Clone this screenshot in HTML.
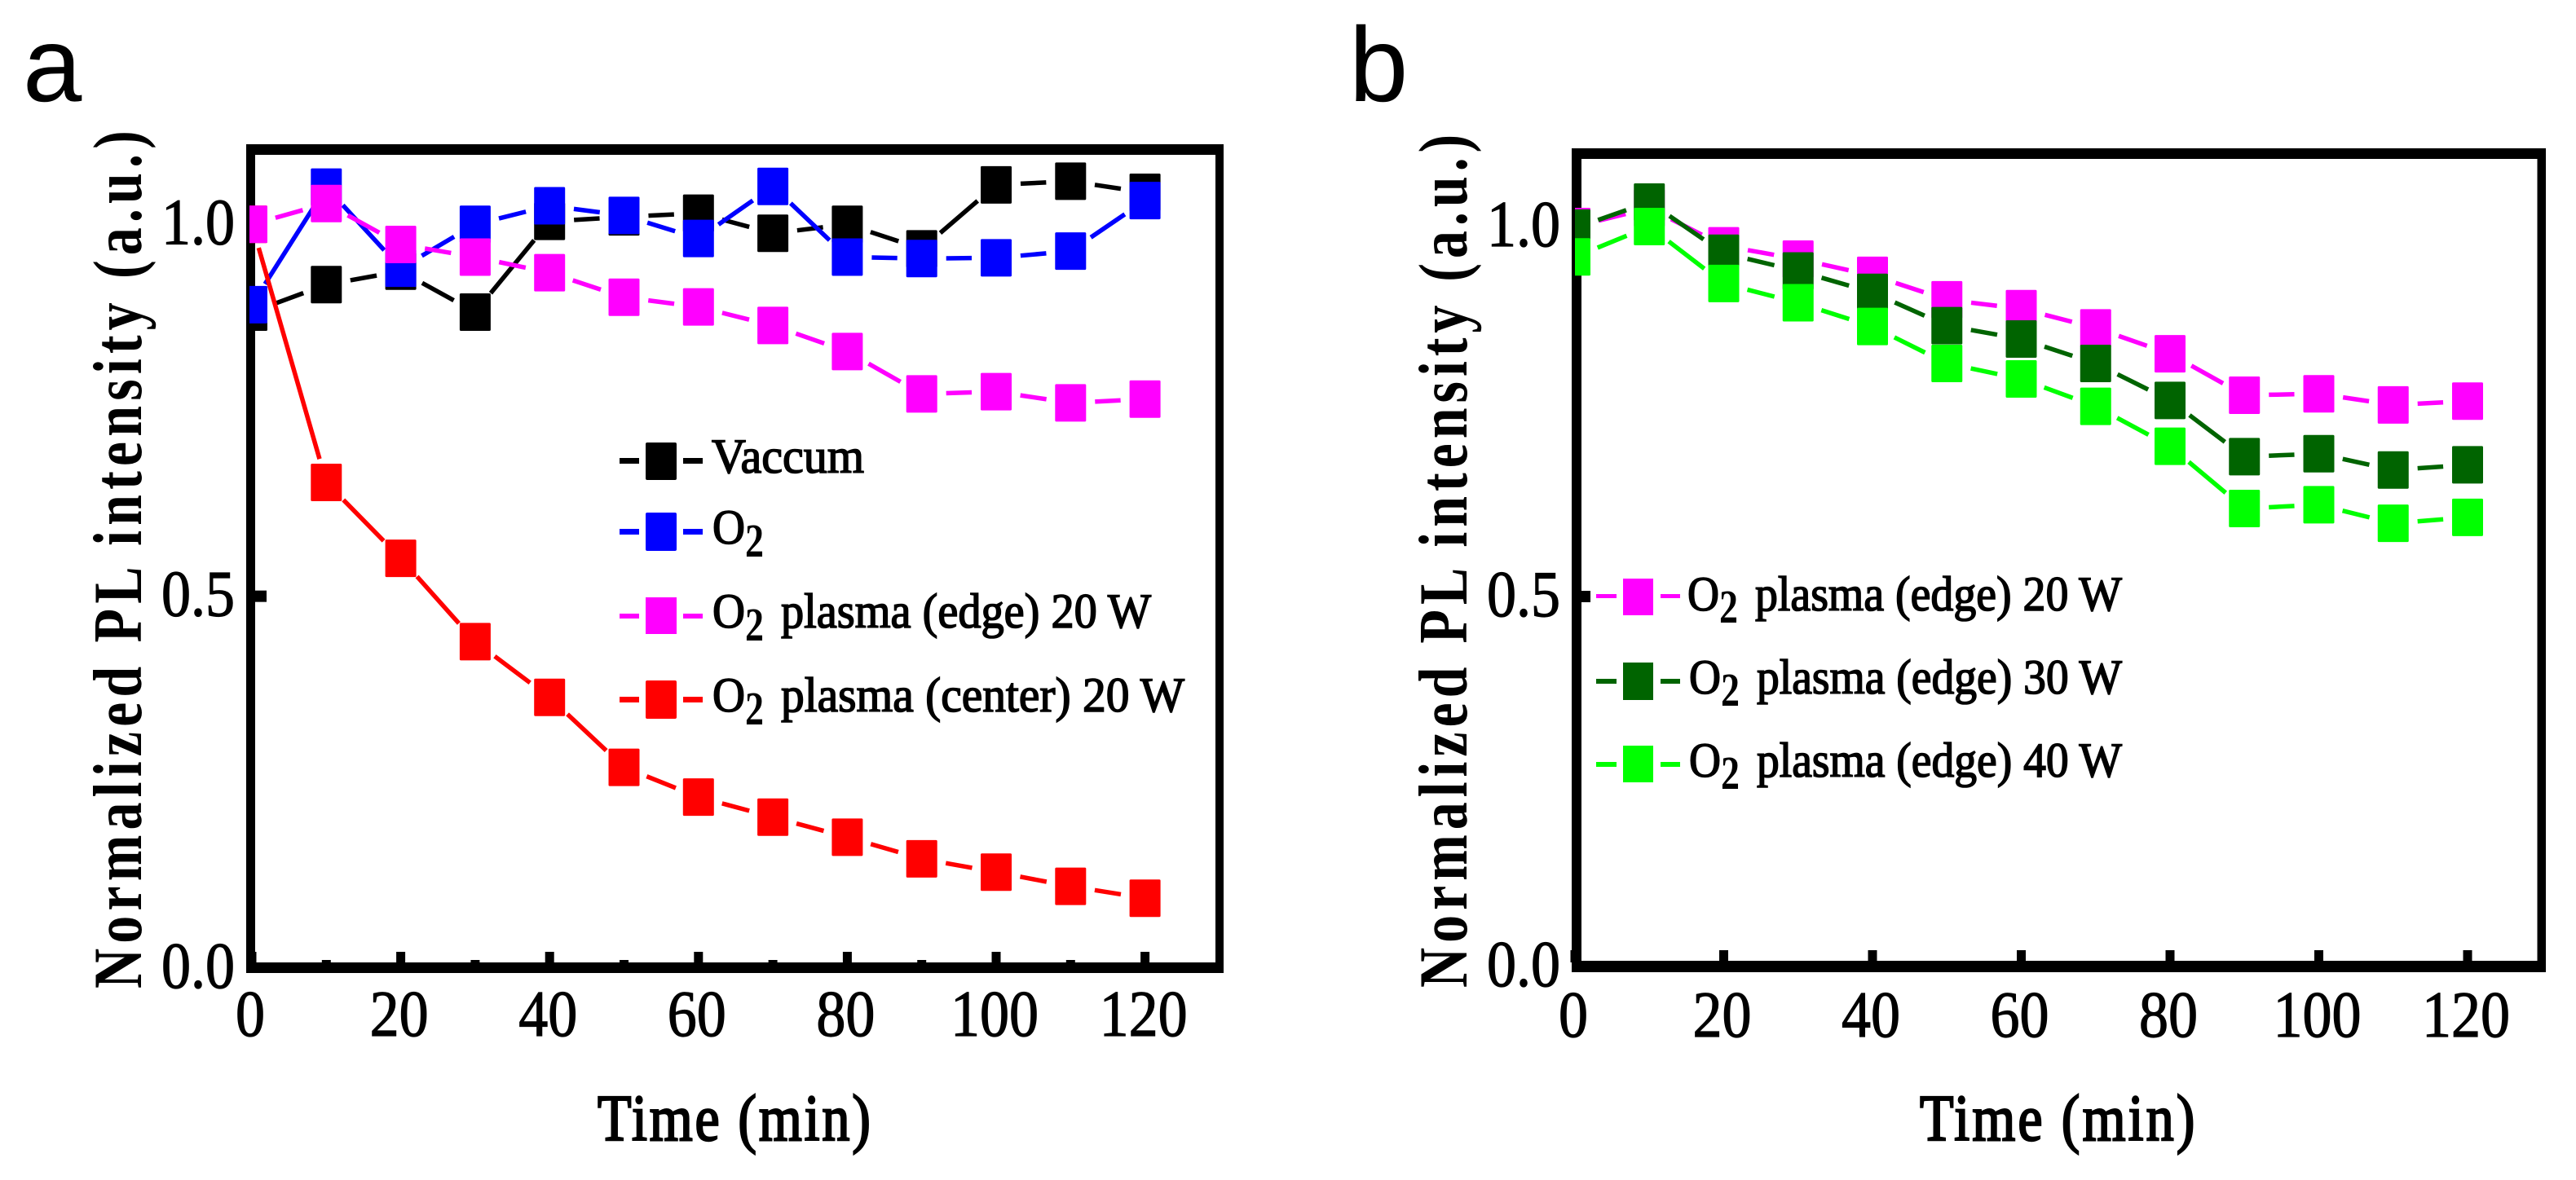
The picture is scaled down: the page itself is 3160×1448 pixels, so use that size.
<!DOCTYPE html>
<html lang="en">
<head>
<meta charset="utf-8">
<title>Normalized PL intensity vs time</title>
<style>
html,body{margin:0;padding:0;background:#fff;}
body{width:3160px;height:1448px;overflow:hidden;}
svg{display:block;}
.serif{font-family:"Liberation Serif",serif;fill:#000;}
.tick{font-size:80px;stroke:#000;stroke-width:1.2px;}
.title{font-weight:bold;}
.xtitle{stroke:#000;stroke-width:2.4px;}
.leg{font-size:60px;stroke:#000;stroke-width:1.6px;}
.sub{font-size:58px;font-weight:bold;}
.panel{font-family:"Liberation Sans",sans-serif;font-size:130px;fill:#000;}
</style>
</head>
<body>
<svg id="chart" xmlns="http://www.w3.org/2000/svg" width="3160" height="1448" viewBox="0 0 3160 1448">
  <rect x="0" y="0" width="3160" height="1448" fill="#fff"/>
  <defs>
    <clipPath id="clip-a"><rect x="306" y="177" width="1195" height="1017"/></clipPath>
    <clipPath id="clip-b"><rect x="1932" y="182" width="1191" height="1011"/></clipPath>
  </defs>

  <text class="panel" x="28" y="124">a</text>
  <text class="panel" x="1655" y="124">b</text>

  <text class="serif title" font-size="85" textLength="1316" lengthAdjust="spacing" transform="translate(173,1213) rotate(-90) scale(.8,1)">Normalized PL intensity (a.u.)</text>
  <text class="serif title" font-size="85" textLength="1309" lengthAdjust="spacing" transform="translate(1799,1212) rotate(-90) scale(.8,1)">Normalized PL intensity (a.u.)</text>
  <text class="serif xtitle" font-size="80" textLength="394" lengthAdjust="spacing" transform="translate(733,1399) scale(.85,1)">Time (min)</text>
  <text class="serif xtitle" font-size="80" textLength="397" lengthAdjust="spacing" transform="translate(2355,1399) scale(.85,1)">Time (min)</text>

  <g id="panel-a"></g>
  <g id="panel-b"></g>

  <g>
    <g>
      <rect x="760" y="562" width="24" height="7" fill="#000"/><rect x="838" y="562" width="24" height="7" fill="#000"/><rect x="792" y="543" width="38" height="46" rx="2" fill="#000"/>
      <text class="serif leg" x="873" y="580" textLength="187" lengthAdjust="spacingAndGlyphs">Vaccum</text>
    </g>
    <g>
      <rect x="760" y="649" width="24" height="7" fill="#0000ff"/><rect x="838" y="649" width="24" height="7" fill="#0000ff"/><rect x="792" y="629" width="38" height="47" rx="2" fill="#0000ff"/>
      <text class="serif leg" x="874" y="667" textLength="40" lengthAdjust="spacingAndGlyphs">O</text>
      <text class="serif sub" x="914" y="683" textLength="23" lengthAdjust="spacingAndGlyphs">2</text>
    </g>
    <g>
      <rect x="760" y="753" width="24" height="6" fill="#ff00ff"/><rect x="838" y="753" width="24" height="6" fill="#ff00ff"/><rect x="792" y="733" width="38" height="45" fill="#ff00ff"/>
      <text class="serif leg" x="874" y="770" textLength="40" lengthAdjust="spacingAndGlyphs">O</text>
      <text class="serif sub" x="914" y="786" textLength="23" lengthAdjust="spacingAndGlyphs">2</text>
      <text class="serif leg" x="958" y="770" textLength="454" lengthAdjust="spacingAndGlyphs">plasma (edge) 20 W</text>
    </g>
    <g>
      <rect x="760" y="855" width="24" height="7" fill="#ff0000"/><rect x="838" y="855" width="24" height="7" fill="#ff0000"/><rect x="792" y="835" width="38" height="47" rx="2" fill="#ff0000"/>
      <text class="serif leg" x="874" y="873" textLength="40" lengthAdjust="spacingAndGlyphs">O</text>
      <text class="serif sub" x="914" y="889" textLength="23" lengthAdjust="spacingAndGlyphs">2</text>
      <text class="serif leg" x="958" y="873" textLength="495" lengthAdjust="spacingAndGlyphs">plasma (center) 20 W</text>
    </g>
  </g>

  <g>
    <g>
      <rect x="1958" y="729" width="25" height="5" fill="#ff00ff"/><rect x="2037" y="729" width="24" height="5" fill="#ff00ff"/><rect x="1991" y="710" width="37" height="45" fill="#ff00ff"/>
      <text class="serif leg" x="2070" y="749" textLength="39" lengthAdjust="spacingAndGlyphs">O</text>
      <text class="serif sub" x="2109" y="764" textLength="23" lengthAdjust="spacingAndGlyphs">2</text>
      <text class="serif leg" x="2153" y="749" textLength="450" lengthAdjust="spacingAndGlyphs">plasma (edge) 20 W</text>
    </g>
    <g>
      <rect x="1958" y="833" width="25" height="6" fill="#006400"/><rect x="2037" y="833" width="24" height="6" fill="#006400"/><rect x="1991" y="813" width="37" height="46" fill="#006400"/>
      <text class="serif leg" x="2072" y="851" textLength="39" lengthAdjust="spacingAndGlyphs">O</text>
      <text class="serif sub" x="2111" y="866" textLength="23" lengthAdjust="spacingAndGlyphs">2</text>
      <text class="serif leg" x="2155" y="851" textLength="448" lengthAdjust="spacingAndGlyphs">plasma (edge) 30 W</text>
    </g>
    <g>
      <rect x="1958" y="935" width="25" height="6" fill="#00ff00"/><rect x="2037" y="935" width="24" height="6" fill="#00ff00"/><rect x="1991" y="915" width="37" height="45" fill="#00ff00"/>
      <text class="serif leg" x="2072" y="953" textLength="39" lengthAdjust="spacingAndGlyphs">O</text>
      <text class="serif sub" x="2111" y="968" textLength="23" lengthAdjust="spacingAndGlyphs">2</text>
      <text class="serif leg" x="2155" y="953" textLength="448" lengthAdjust="spacingAndGlyphs">plasma (edge) 40 W</text>
    </g>
  </g>
</svg>

<script>
var times = [0, 10, 20, 30, 40, 50, 60, 70, 80, 90, 100, 110, 120];
var xTickLabels = ['0', '20', '40', '60', '80', '100', '120'];
var xTickValues = [0, 20, 40, 60, 80, 100, 120];
var xMinorValues = [10, 30, 50, 70, 90, 110];
var yTickLabels = ['0.0', '0.5', '1.0'];
var yTickValues = [0, 0.5, 1];

var vacuumValues = [0.882, 0.919, 0.937, 0.882, 1.004, 1.010, 1.015, 0.988, 1.000, 0.967, 1.053, 1.058, 1.043];
var o2Values = [0.892, 1.050, 0.941, 1.000, 1.025, 1.012, 0.981, 1.051, 0.956, 0.954, 0.955, 0.964, 1.032];
var edge20ValuesA = [1.000, 1.028, 0.973, 0.956, 0.935, 0.902, 0.889, 0.864, 0.829, 0.772, 0.775, 0.760, 0.765];
var center20Values = [1.000, 0.653, 0.551, 0.439, 0.364, 0.270, 0.230, 0.203, 0.176, 0.147, 0.129, 0.110, 0.094];

var edge20ValuesB = [1.000, 1.025, 0.974, 0.956, 0.934, 0.901, 0.889, 0.863, 0.828, 0.772, 0.774, 0.759, 0.764];
var edge30Values = [0.998, 1.033, 0.964, 0.940, 0.911, 0.866, 0.848, 0.815, 0.765, 0.689, 0.693, 0.671, 0.678];
var edge40Values = [0.959, 1.000, 0.923, 0.897, 0.865, 0.815, 0.794, 0.757, 0.703, 0.619, 0.624, 0.599, 0.607];

var SVGNS = 'http://www.w3.org/2000/svg';
var MARKER_W = 38, MARKER_H = 46, GAP = 30;

function make(tag, attrs, parent) {
  var el = document.createElementNS(SVGNS, tag);
  for (var k in attrs) { el.setAttribute(k, attrs[k]); }
  parent.appendChild(el);
  return el;
}

function drawPanel(p) {
  var root = document.getElementById(p.id);
  function X(t) { return p.x0 + p.xScale * t; }
  function Y(v) { return p.y0 - p.yScale * v; }

  var frameRects = [
    {name: 'frame-left', x: p.fl, y: p.ft, w: p.flw, h: p.fb - p.ft},
    {name: 'frame-right', x: p.fr - p.frw, y: p.ft, w: p.frw, h: p.fb - p.ft},
    {name: 'frame-top', x: p.fl, y: p.ft, w: p.fr - p.fl, h: p.ftw},
    {name: 'frame-bottom', x: p.fl, y: p.fb - p.fbw, w: p.fr - p.fl, h: p.fbw}
  ];
  frameRects.forEach(function (f) {
    var r = make('rect', {x: f.x, y: f.y, width: f.w, height: f.h, fill: '#000'}, root);
    
    
  });

  xTickValues.forEach(function (t, i) {
    var tick = make('rect', {x: X(t) - 5.5, y: p.tickTop, width: 11, height: p.fb - p.fbw - p.tickTop + 2, fill: '#000'}, root);
    
    
    var label = make('text', {'class': 'serif tick', 'text-anchor': 'middle', transform: 'translate(' + (X(t) - 2) + ',' + p.xLabelY + ') scale(.9,1)'}, root);
    label.textContent = xTickLabels[i];
    
    
  });

  if (p.minor) {
    xMinorValues.forEach(function (t) {
      var minor = make('rect', {x: X(t) - 5.5, y: p.minorTop, width: 11, height: p.fb - p.fbw - p.minorTop + 2, fill: '#000'}, root);
      
      
    });
  }

  yTickValues.forEach(function (v, i) {
    if (v > 0) {
      var tick = make('rect', {x: p.fl + p.flw - 2, y: Y(v) - 7, width: p.yTickLen, height: 14, fill: '#000'}, root);
      
      
    }
    var label = make('text', {'class': 'serif tick', 'text-anchor': 'end', transform: 'translate(' + p.yLabelX + ',' + (Y(v) + 24) + ') scale(.9,1)'}, root);
    label.textContent = yTickLabels[i];
    
    
  });

  var plot = make('g', {'clip-path': 'url(#' + p.clip + ')'}, root);
  
  

  p.series.forEach(function (s) {
    var group = make('g', {}, plot);
    
    
    for (var i = 0; i < times.length - 1; i++) {
      var ax = X(times[i]), ay = Y(s.values[i]);
      var bx = X(times[i + 1]), by = Y(s.values[i + 1]);
      var d = Math.sqrt((bx - ax) * (bx - ax) + (by - ay) * (by - ay));
      if (d <= 2 * GAP) { continue; }
      var ux = (bx - ax) / d, uy = (by - ay) / d;
      var seg = make('line', {x1: ax + ux * GAP, y1: ay + uy * GAP, x2: bx - ux * GAP, y2: by - uy * GAP, stroke: s.color, 'stroke-width': 5.5}, group);
      
      
    }
  });

  p.series.forEach(function (s) {
    var group = make('g', {}, plot);
    
    
    times.forEach(function (t, i) {
      var m = make('rect', {x: X(t) - MARKER_W / 2, y: Y(s.values[i]) - MARKER_H / 2, width: MARKER_W, height: MARKER_H, rx: 1.5, fill: s.color}, group);
      
      
    });
  });
}

drawPanel({
  id: 'panel-a', clip: 'clip-a', x0: 309, xScale: 9.13, y0: 1188, yScale: 912.7,
  fl: 302, fr: 1501, ft: 177, fb: 1194, flw: 11, frw: 10, ftw: 13, fbw: 13,
  tickTop: 1168, minorTop: 1178, minor: true, yTickLen: 16,
  xLabelY: 1271, yLabelX: 288,
  series: [
    {name: 'vaccum', color: '#000000', values: vacuumValues},
    {name: 'o2', color: '#0000ff', values: o2Values},
    {name: 'o2-plasma-center-20w', color: '#ff0000', values: center20Values},
    {name: 'o2-plasma-edge-20w', color: '#ff00ff', values: edge20ValuesA}
  ]
});

drawPanel({
  id: 'panel-b', clip: 'clip-b', x0: 1932, xScale: 9.125, y0: 1186, yScale: 908,
  fl: 1928, fr: 3123, ft: 182, fb: 1193, flw: 12, frw: 10.5, ftw: 13, fbw: 14,
  tickTop: 1166, minorTop: 1166, minor: false, yTickLen: 13,
  xLabelY: 1272, yLabelX: 1914,
  series: [
    {name: 'o2-plasma-edge-20w', color: '#ff00ff', values: edge20ValuesB},
    {name: 'o2-plasma-edge-30w', color: '#006400', values: edge30Values},
    {name: 'o2-plasma-edge-40w', color: '#00ff00', values: edge40Values}
  ]
});
</script>
</body>
</html>
